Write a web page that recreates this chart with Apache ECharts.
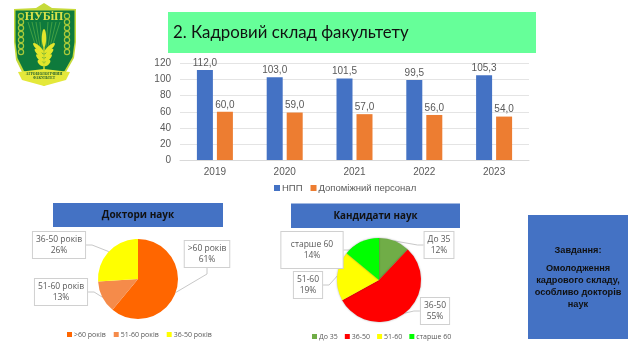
<!DOCTYPE html>
<html><head><meta charset="utf-8">
<style>html,body{margin:0;padding:0;background:#fff}#c{width:640px;height:360px}</style>
<script src="https://cdn.jsdelivr.net/npm/echarts@6/dist/echarts.min.js"></script>
</head><body><div id="c"></div>
<script>
const years = ['2019','2020','2021','2022','2023'];
const teachers = [112.0,103.0,101.5,99.5,105.3];
const staff = [60.0,59.0,57.0,56.0,54.0];
const doctorNames = ['>60 років','51-60 років','36-50 років'];
const doctorValues = [61,13,26];
const doctorColors = ['#FF6600','#F58B4A','#FFFF00'];
const candNames = ['До 35','36-50','51-60','старше 60'];
const candValues = [12,55,19,14];
const candColors = ['#70AD47','#FF0000','#FFFF00','#00FF00'];
const titleText = '2. Кадровий склад факультету';
const grey = '#595959';

function pieSeries(names, values, colors, center, radius, boxes, paddings, shadow) {
  return {
    type:'pie', center, radius, startAngle:90, clockwise:true, animation:false,
    data:names.map((n,i)=>({name:n,value:values[i],
      itemStyle:{color:colors[i],shadowBlur:shadow,shadowColor:'rgba(0,0,0,0.35)'},
      label:{padding:paddings[i]}})),
    label:{show:true,formatter:'{b}\n{d}%',color:grey,fontFamily:'Open Sans',fontSize:8.5,lineHeight:11,
      backgroundColor:'#fff',borderColor:'#d0d0d0',borderWidth:1,align:'center',verticalAlign:'middle'},
    labelLine:{show:true,length:6,length2:6,lineStyle:{color:'#c8c8c8',width:1}},
    labelLayout:(p)=>{const b=boxes[p.dataIndex];return {x:b[0],y:b[1],align:'center',verticalAlign:'middle'};},
    emphasis:{disabled:true}
  };
}
function box(x,y,w,h,fill,extra){return Object.assign({type:'rect',shape:{x,y,width:w,height:h},style:{fill}},extra||{});}
function txt(x,y,t,font,fill,align,vAlign){return {type:'text',x,y,style:{text:t,font,fill:fill||'#111',align:align||'center',verticalAlign:vAlign||'middle'}};}

const leaves=[];
[48,53,58,63].forEach((y,i)=>{
  const w=7-i;
  leaves.push({type:'ellipse',x:44-w*0.8,y:y,rotation:-0.75,shape:{cx:0,cy:0,rx:w,ry:2.1},style:{fill:'#E3E62B'}});
  leaves.push({type:'ellipse',x:44+w*0.8,y:y,rotation:0.75,shape:{cx:0,cy:0,rx:w,ry:2.1},style:{fill:'#E3E62B'}});
});
const rays=[];
[-16,-12,-8,-4,4,8,12,16].forEach(d=>rays.push({type:'line',shape:{x1:44+d,y1:22,x2:44+d*0.2,y2:62},style:{stroke:'#4FA845',lineWidth:0.8}}));
const orn=[];
for(let y=16;y<=54;y+=6){
  orn.push({type:'circle',shape:{cx:21,cy:y,r:2.6},style:{fill:'none',stroke:'#A9C93A',lineWidth:1.2}});
  orn.push({type:'circle',shape:{cx:67,cy:y,r:2.6},style:{fill:'none',stroke:'#A9C93A',lineWidth:1.2}});
}
const logo=[
  {type:'polygon',shape:{points:[[44,3],[52,8],[76,9],[76,42],[74,58],[66,72],[44,86],[22,72],[16,60],[14,42],[14,9],[36,8]]},style:{fill:'#C6DA3A'}},
  {type:'polygon',shape:{points:[[15.5,10.5],[74.5,10.5],[74.5,42],[72.5,57],[64.5,71],[44,84],[24,71],[17.5,58],[15.5,42]]},style:{fill:'#0E7A3C'}},
  ...rays,...orn,
  ...leaves,
  {type:'ellipse',x:44,y:38,shape:{cx:0,cy:0,rx:2.2,ry:9},style:{fill:'#E3E62B'}},
  {type:'rect',shape:{x:43.3,y:40,width:1.4,height:30},style:{fill:'#E3E62B'}},
  {type:'polygon',shape:{points:[[18,72],[44,69],[70,72],[66,80],[44,86],[22,80]]},style:{fill:'#E4E83A'}},
  txt(44,17,'НУБіП','bold 12px "Liberation Serif"','#D9E24A'),
  txt(44,74,'АГРОБІОЛОГІЧНИЙ','bold 3.6px "Liberation Serif"','#1c5a2c'),
  txt(44,78,'ФАКУЛЬТЕТ','bold 3.6px "Liberation Serif"','#1c5a2c')
];

const fmt=p=>p.value.toFixed(1).replace('.',',');
const option={
  backgroundColor:'#fff',animation:false,
  grid:{left:180,right:111,top:63.5,bottom:200},
  xAxis:{type:'category',data:years,axisTick:{show:false},axisLine:{lineStyle:{color:'#d9d9d9'}},
    axisLabel:{color:grey,fontFamily:'Liberation Sans',fontSize:10,margin:7}},
  yAxis:{type:'value',min:0,max:120,interval:20,axisLine:{show:false},axisTick:{show:false},
    splitLine:{lineStyle:{color:'#e4e4e4',width:1}},axisLabel:{color:grey,fontFamily:'Liberation Sans',fontSize:10,margin:9}},
  legend:[
    {data:['НПП','Допоміжний персонал'],left:269,top:178,itemWidth:6,itemHeight:6,itemGap:8,icon:'rect',
      textStyle:{color:grey,fontFamily:'Liberation Sans',fontSize:9.5,padding:[0,0,0,-3]}},
    {data:doctorNames,left:62,top:326,itemWidth:5,itemHeight:5,itemGap:8,icon:'rect',
      textStyle:{color:grey,fontFamily:'Open Sans',fontSize:7,padding:[0,0,0,-3]}},
    {data:candNames,left:307,top:328,itemWidth:5,itemHeight:5,itemGap:7,icon:'rect',
      textStyle:{color:grey,fontFamily:'Open Sans',fontSize:7,padding:[0,0,0,-3]}}
  ],
  series:[
    {name:'НПП',type:'bar',data:teachers,barWidth:16,barGap:'25%',itemStyle:{color:'#4472C4'},
      label:{show:true,position:'top',distance:2,color:grey,fontFamily:'Liberation Sans',fontSize:10,formatter:fmt}},
    {name:'Допоміжний персонал',type:'bar',data:staff,barWidth:16,itemStyle:{color:'#ED7D31'},
      label:{show:true,position:'top',distance:2,color:grey,fontFamily:'Liberation Sans',fontSize:10,formatter:fmt}},
    pieSeries(doctorNames,doctorValues,doctorColors,[138,279],40,[[207,254],[61,292],[59,245]],
      [[2,3],[2,3],[2,3]],0),
    pieSeries(candNames,candValues,candColors,[379,280],42,[[439,245],[435,311],[308,285],[312,250]],
      [[2,3],[2,3],[2,3],[7,9.5]],2)
  ],
  graphic:{elements:[
    box(168,12,368,41,'#66FF99',{z:-1}),
    txt(173,32.5,titleText,'16.8px "Lato"','#111','left'),
    box(53,203,170,24,'#4472C4'),
    txt(138,215.5,'Доктори наук','bold 10px "Open Sans"','#111'),
    box(291,203.5,169,24.5,'#4472C4'),
    txt(375.5,216,'Кандидати наук','bold 9.8px "Open Sans"','#111'),
    box(528,215,100,124,'#4472C4'),
    txt(578,250.5,'Завдання:','bold 9.2px "Liberation Sans"','#111'),
    txt(578,268.5,'Омолодження','bold 9.2px "Liberation Sans"','#111'),
    txt(578,280,'кадрового складу,','bold 9.2px "Liberation Sans"','#111'),
    txt(578,292,'особливо докторів','bold 9.2px "Liberation Sans"','#111'),
    txt(578,304,'наук','bold 9.2px "Liberation Sans"','#111'),
    {type:'group',children:logo}
  ]}
};
echarts.init(document.getElementById('c'),null,{renderer:'canvas'}).setOption(option);
</script></body></html>
